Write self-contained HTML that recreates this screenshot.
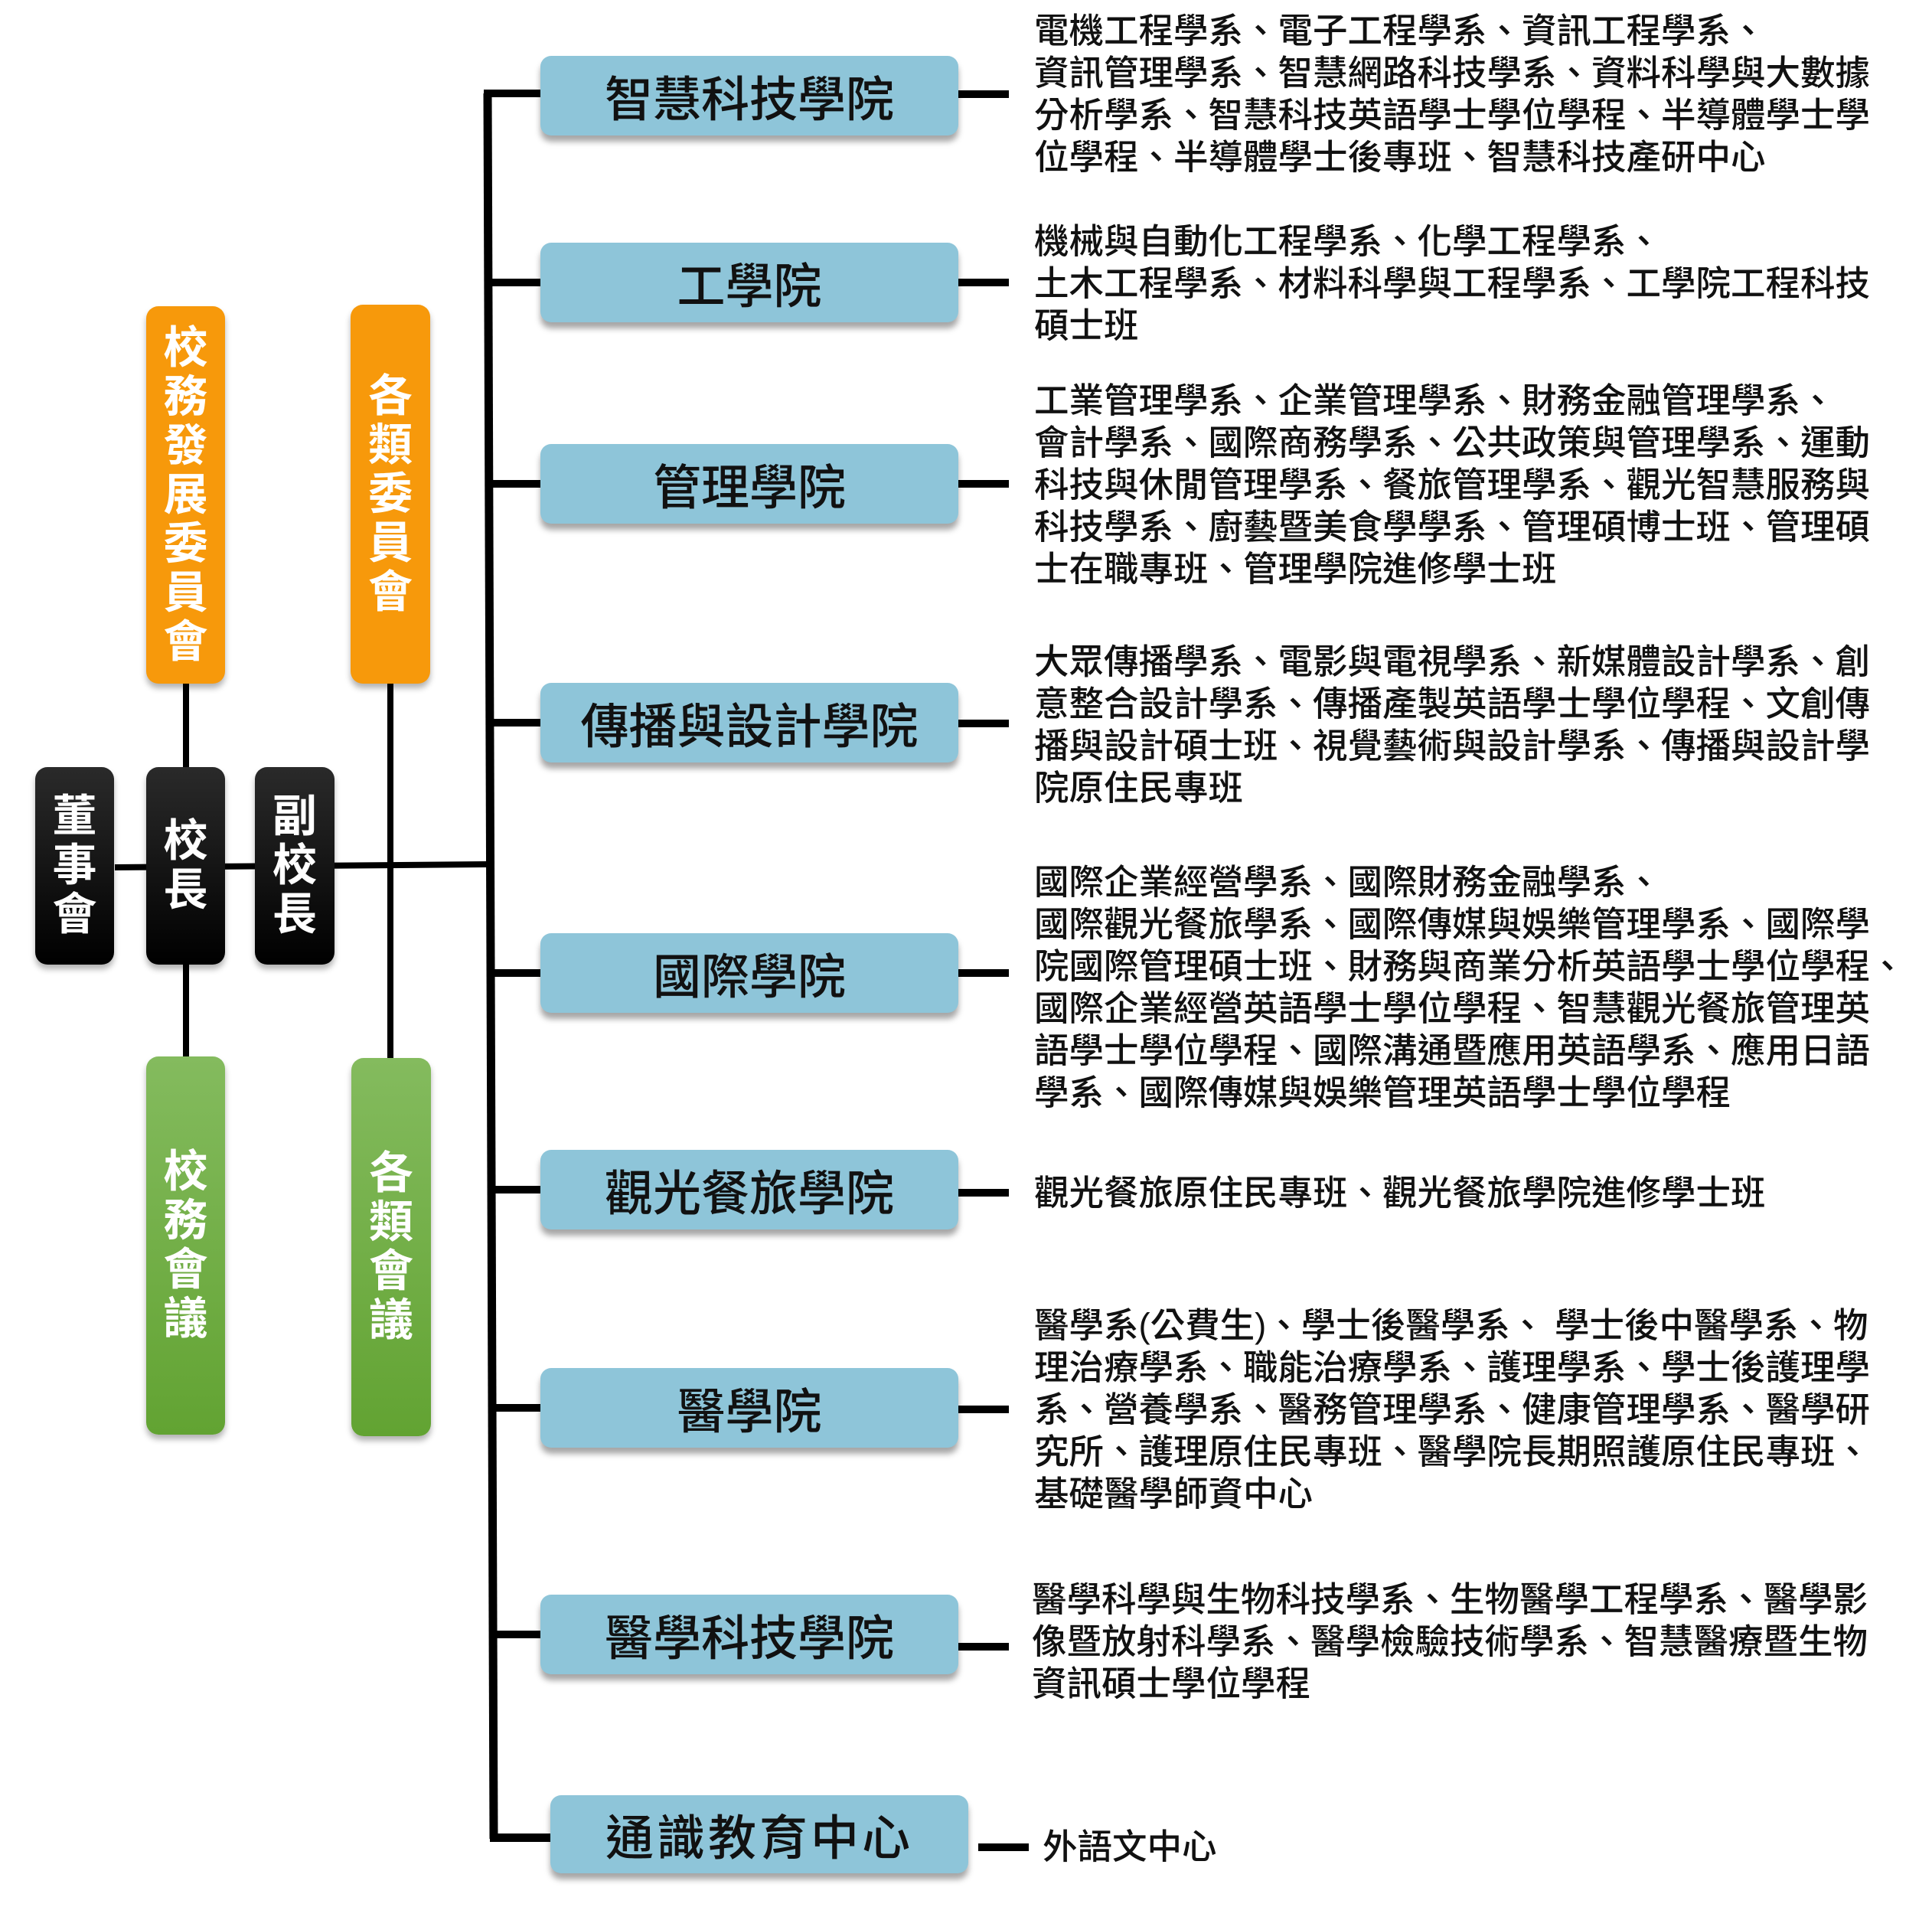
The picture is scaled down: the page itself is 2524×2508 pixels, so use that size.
<!DOCTYPE html>
<html><head><meta charset="utf-8"><style>
*{margin:0;padding:0;box-sizing:border-box}
body{width:2524px;height:2508px;background:#fff;position:relative;overflow:hidden;font-family:"Liberation Sans","Noto Sans CJK TC",sans-serif}
.a{position:absolute}
.l{position:absolute;background:#000}
.b{position:absolute;background:#8ec5d9;border-radius:14px;box-shadow:0 8px 8px rgba(0,0,0,.35);display:flex;align-items:center;justify-content:center;font-size:63px;font-weight:500;color:#111;width:546px;height:104px;left:706px}
.v{position:absolute;border-radius:16px;display:flex;flex-direction:column;align-items:center;justify-content:center;color:#fff;font-weight:700;font-size:58px;line-height:64px;box-shadow:0 6px 8px rgba(0,0,0,.3)}
.o{background:#f7990b}
.g{background:linear-gradient(#84bb5e,#62a332)}
.k{background:linear-gradient(#2a2a2a,#000)}
.t{position:absolute;left:1351px;font-size:45.5px;line-height:55px;color:#111;font-weight:500;white-space:nowrap}
.s{position:absolute;left:1252px;width:66px;height:10px;background:#000}
</style></head><body>
<svg class="a" style="left:0;top:0" width="2524" height="2508"><path d="M637 122 L645 2402" stroke="#000" stroke-width="11"/><path d="M150 1133 L640 1129" stroke="#000" stroke-width="8"/></svg>
<div class="l" style="left:632px;top:117px;width:76px;height:10px"></div>
<div class="l" style="left:634px;top:364px;width:74px;height:10px"></div>
<div class="l" style="left:635px;top:627px;width:73px;height:10px"></div>
<div class="l" style="left:636px;top:939px;width:72px;height:10px"></div>
<div class="l" style="left:637px;top:1266px;width:71px;height:10px"></div>
<div class="l" style="left:638px;top:1549px;width:70px;height:10px"></div>
<div class="l" style="left:639px;top:1834px;width:69px;height:10px"></div>
<div class="l" style="left:640px;top:2130px;width:68px;height:10px"></div>
<div class="l" style="left:640px;top:2395px;width:80px;height:11px"></div>
<div class="l" style="left:239px;top:893px;width:8px;height:490px"></div>
<div class="l" style="left:506px;top:893px;width:8px;height:492px"></div>

<div class="v o" style="left:191px;top:400px;width:103px;height:493px">校<br>務<br>發<br>展<br>委<br>員<br>會</div>
<div class="v o" style="left:458px;top:398px;width:104px;height:495px">各<br>類<br>委<br>員<br>會</div>
<div class="v g" style="left:191px;top:1380px;width:103px;height:494px">校<br>務<br>會<br>議</div>
<div class="v g" style="left:459px;top:1382px;width:104px;height:494px">各<br>類<br>會<br>議</div>
<div class="v k" style="left:46px;top:1002px;width:103px;height:258px">董<br>事<br>會</div>
<div class="v k" style="left:191px;top:1002px;width:103px;height:258px">校<br>長</div>
<div class="v k" style="left:333px;top:1002px;width:104px;height:258px">副<br>校<br>長</div>

<div class="b" style="top:73px">智慧科技學院</div>
<div class="b" style="top:317px">工學院</div>
<div class="b" style="top:580px">管理學院</div>
<div class="b" style="top:892px">傳播與設計學院</div>
<div class="b" style="top:1219px">國際學院</div>
<div class="b" style="top:1502px">觀光餐旅學院</div>
<div class="b" style="top:1787px">醫學院</div>
<div class="b" style="top:2083px">醫學科技學院</div>
<div class="b" style="top:2345px;left:719px;height:102px;letter-spacing:4px">通識教育中心</div>

<div class="s" style="top:118px"></div>
<div class="s" style="top:364px"></div>
<div class="s" style="top:627px"></div>
<div class="s" style="top:940px"></div>
<div class="s" style="top:1266px"></div>
<div class="s" style="top:1553px"></div>
<div class="s" style="top:1836px"></div>
<div class="s" style="top:2146px"></div>
<div class="s" style="top:2408px;left:1278px;width:66px"></div>

<div class="t" style="top:13px">電機工程學系、電子工程學系、資訊工程學系、<br>資訊管理學系、智慧網路科技學系、資料科學與大數據<br>分析學系、智慧科技英語學士學位學程、半導體學士學<br>位學程、半導體學士後專班、智慧科技產研中心</div>
<div class="t" style="top:288px">機械與自動化工程學系、化學工程學系、<br>土木工程學系、材料科學與工程學系、工學院工程科技<br>碩士班</div>
<div class="t" style="top:496px">工業管理學系、企業管理學系、財務金融管理學系、<br>會計學系、國際商務學系、公共政策與管理學系、運動<br>科技與休閒管理學系、餐旅管理學系、觀光智慧服務與<br>科技學系、廚藝暨美食學學系、管理碩博士班、管理碩<br>士在職專班、管理學院進修學士班</div>
<div class="t" style="top:837px">大眾傳播學系、電影與電視學系、新媒體設計學系、創<br>意整合設計學系、傳播產製英語學士學位學程、文創傳<br>播與設計碩士班、視覺藝術與設計學系、傳播與設計學<br>院原住民專班</div>
<div class="t" style="top:1125px">國際企業經營學系、國際財務金融學系、<br>國際觀光餐旅學系、國際傳媒與娛樂管理學系、國際學<br>院國際管理碩士班、財務與商業分析英語學士學位學程、<br>國際企業經營英語學士學位學程、智慧觀光餐旅管理英<br>語學士學位學程、國際溝通暨應用英語學系、應用日語<br>學系、國際傳媒與娛樂管理英語學士學位學程</div>
<div class="t" style="top:1531px">觀光餐旅原住民專班、觀光餐旅學院進修學士班</div>
<div class="t" style="top:1704px">醫學系(公費生)、學士後醫學系、 學士後中醫學系、物<br>理治療學系、職能治療學系、護理學系、學士後護理學<br>系、營養學系、醫務管理學系、健康管理學系、醫學研<br>究所、護理原住民專班、醫學院長期照護原住民專班、<br>基礎醫學師資中心</div>
<div class="t" style="top:2062px;left:1348px">醫學科學與生物科技學系、生物醫學工程學系、醫學影<br>像暨放射科學系、醫學檢驗技術學系、智慧醫療暨生物<br>資訊碩士學位學程</div>
<div class="t" style="top:2385px;left:1362px">外語文中心</div>
</body></html>
